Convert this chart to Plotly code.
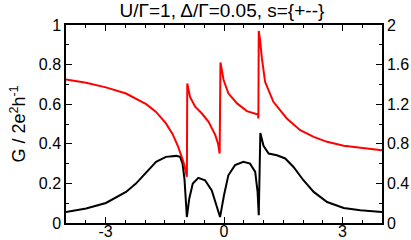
import plotly.graph_objects as go

red_x = [-4.0, -3.49, -2.99, -2.48, -1.97, -1.72, -1.47, -1.30, -1.17, -1.09, -1.03, -0.98, -0.94,
         -0.93, -0.86, -0.73, -0.56, -0.39, -0.22, -0.15, -0.11, -0.09, -0.01, 0.11, 0.33, 0.58,
         0.79, 0.86, 0.87, 0.88, 0.91, 0.96, 1.04, 1.25, 1.59, 1.93, 2.27, 2.61, 3.03, 3.45, 4.0]
red_y = [1.45, 1.416, 1.37, 1.308, 1.2, 1.122, 1.006, 0.898, 0.78, 0.69, 0.62, 0.54, 0.466,
         1.41, 1.274, 1.174, 1.106, 1.022, 0.888, 0.80, 0.702, 1.622, 1.444, 1.31, 1.208, 1.13,
         1.106, 1.096, 1.056, 1.94, 1.86, 1.662, 1.426, 1.224, 1.056, 0.938, 0.87, 0.82, 0.78, 0.758, 0.736]

black_x = [-4.0, -3.49, -2.99, -2.48, -2.23, -1.97, -1.72, -1.47, -1.21, -1.11, -1.05, -1.0, -0.96,
           -0.94, -0.88, -0.79, -0.65, -0.48, -0.31, -0.20, -0.10, 0.0, 0.11, 0.28, 0.49, 0.66,
           0.79, 0.85, 0.88, 0.92, 1.0, 1.13, 1.34, 1.55, 1.76, 2.01, 2.27, 2.61, 3.03, 3.45, 4.0]
black_y = [0.056, 0.073, 0.101, 0.157, 0.199, 0.258, 0.309, 0.334, 0.339, 0.334, 0.30, 0.22, 0.10,
           0.03, 0.123, 0.199, 0.228, 0.216, 0.165, 0.098, 0.03, 0.14, 0.241, 0.292, 0.309, 0.30,
           0.258, 0.157, 0.039, 0.455, 0.39, 0.351, 0.342, 0.326, 0.283, 0.216, 0.157, 0.106, 0.076, 0.064, 0.056]

x_ticks = [-3, 0, 3]
y_ticks = [0, 0.2, 0.4, 0.6, 0.8, 1]
y_labels = ["0", "0.2", "0.4", "0.6", "0.8", "1"]
y2_ticks = [0, 0.4, 0.8, 1.2, 1.6, 2]
y2_labels = ["0", "0.4", "0.8", "1.2", "1.6", "2"]

fig = go.Figure()
fig.add_trace(go.Scatter(x=black_x, y=black_y, mode="lines",
                         line=dict(color="black", width=2), showlegend=False))
fig.add_trace(go.Scatter(x=red_x, y=red_y, mode="lines", yaxis="y2",
                         line=dict(color="#ff0000", width=2), showlegend=False))

font = dict(family="Liberation Sans, Arial, sans-serif", size=16, color="black")

common = dict(ticks="inside", ticklen=6, tickwidth=1, tickcolor="black",
              showline=True, linecolor="black", linewidth=1.5,
              showgrid=False, zeroline=False, automargin=False)

fig.update_layout(
    width=411, height=240,
    margin=dict(l=66, r=29, t=25, b=17),
    paper_bgcolor="white", plot_bgcolor="white",
    font=font,
    title=dict(text="U/Γ=1, Δ/Γ=0.05, s={+--}", x=0.54, xanchor="center",
               y=0.955, yanchor="middle", font=dict(size=19)),
    xaxis=dict(range=[-4, 4], tickvals=x_ticks, ticktext=[str(v) for v in x_ticks],
               mirror="ticks", ticklabelstandoff=-7,
               minor=dict(dtick=0.5, ticks="inside", ticklen=3, tickcolor="black"), **common),
    yaxis=dict(range=[0, 1], tickvals=y_ticks, ticktext=y_labels,
               minor=dict(dtick=0.1, ticks="inside", ticklen=3, tickcolor="black"),
               title=dict(text="G / 2e<sup>2</sup>h<sup>-1</sup>", standoff=8, font=dict(size=18)),
               **common),
    yaxis2=dict(range=[0, 2], tickvals=y2_ticks, ticktext=y2_labels,
                overlaying="y", side="right",
                minor=dict(dtick=0.2, ticks="inside", ticklen=3, tickcolor="black"), **common),
)

fig.write_html("out.html", config={"displayModeBar": False},
               post_script="document.body.style.margin='0px';document.body.style.overflow='hidden';")
